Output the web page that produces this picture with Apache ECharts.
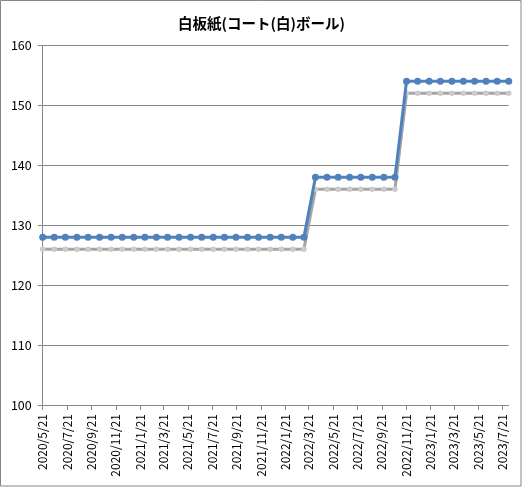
<!DOCTYPE html>
<html>
<head>
<meta charset="utf-8">
<script src="https://cdn.jsdelivr.net/npm/echarts@6/dist/echarts.min.js"></script>
<style>
  html, body { margin: 0; padding: 0; background: #fff; }
  #chart { width: 523px; height: 487px; }
</style>
</head>
<body>
<div id="chart"></div>
<script>
// 日付（データの時点）
var dates = [
  '2020-05-21', '2020-06-19', '2020-07-17', '2020-08-15', '2020-09-12', '2020-10-11',
  '2020-11-09', '2020-12-07', '2021-01-05', '2021-02-02', '2021-03-03', '2021-03-31',
  '2021-04-29', '2021-05-28', '2021-06-25', '2021-07-24', '2021-08-21', '2021-09-19',
  '2021-10-18', '2021-11-15', '2021-12-14', '2022-01-11', '2022-02-09', '2022-03-09',
  '2022-04-07', '2022-05-06', '2022-06-03', '2022-07-02', '2022-07-30', '2022-08-28',
  '2022-09-26', '2022-10-24', '2022-11-22', '2022-12-20', '2023-01-18', '2023-02-15',
  '2023-03-16', '2023-04-14', '2023-05-12', '2023-06-10', '2023-07-08', '2023-08-06'
];

// 青い線
var blueValues = [
  128, 128, 128, 128, 128, 128, 128, 128, 128, 128, 128, 128,
  128, 128, 128, 128, 128, 128, 128, 128, 128, 128, 128, 128,
  138, 138, 138, 138, 138, 138, 138, 138,
  154, 154, 154, 154, 154, 154, 154, 154, 154, 154
];

// 灰色の線
var grayValues = [
  126, 126, 126, 126, 126, 126, 126, 126, 126, 126, 126, 126,
  126, 126, 126, 126, 126, 126, 126, 126, 126, 126, 126, 126,
  136, 136, 136, 136, 136, 136, 136, 136,
  152, 152, 152, 152, 152, 152, 152, 152, 152, 152
];

// x軸の目盛り（2か月ごと）
var xTicks = [
  '2020-05-21', '2020-07-21', '2020-09-21', '2020-11-21',
  '2021-01-21', '2021-03-21', '2021-05-21', '2021-07-21', '2021-09-21', '2021-11-21',
  '2022-01-21', '2022-03-21', '2022-05-21', '2022-07-21', '2022-09-21', '2022-11-21',
  '2023-01-21', '2023-03-21', '2023-05-21', '2023-07-21'
];

// y軸
var yMin = 100, yMax = 160, yStep = 10;

function toTime(s) {
  var p = s.split('-');
  return new Date(+p[0], +p[1] - 1, +p[2]).getTime();
}

function pairs(vals) {
  return vals.map(function (v, i) { return [toTime(dates[i]), v]; });
}

(function () {
  var myChart = echarts.init(document.getElementById('chart'));
  var axisColor = '#868686';

  var option = {
    animation: false,
    title: {
      text: '白板紙(コート(白)ボール)',
      left: 'center',
      top: 11,
      textStyle: {
        fontFamily: 'Noto Sans CJK JP',
        fontSize: 14.5,
        fontWeight: 'bold',
        color: '#000'
      }
    },
    graphic: [{
      type: 'rect',
      shape: { x: 0.5, y: 0.5, width: 520.5, height: 485.5 },
      style: { fill: 'none', stroke: axisColor, lineWidth: 1 },
      silent: true
    }],
    grid: {
      left: 42.7,
      right: 14.3,
      top: 45.3,
      bottom: 82
    },
    xAxis: {
      type: 'value',
      min: toTime(dates[0]),
      max: toTime(dates[dates.length - 1]),
      axisLine: { lineStyle: { color: axisColor, width: 1 } },
      axisTick: {
        show: true,
        length: 5,
        customValues: xTicks.map(toTime),
        lineStyle: { color: axisColor }
      },
      axisLabel: {
        customValues: xTicks.map(toTime),
        rotate: 90,
        margin: 9,
        color: '#000',
        fontFamily: 'Noto Sans CJK JP',
        fontSize: 12,
        formatter: function (v) {
          var d = new Date(v);
          return d.getFullYear() + '/' + (d.getMonth() + 1) + '/' + d.getDate();
        }
      },
      splitLine: { show: false }
    },
    yAxis: {
      type: 'value',
      min: yMin,
      max: yMax,
      interval: yStep,
      axisLine: { show: true, lineStyle: { color: axisColor, width: 1 } },
      axisTick: { show: true, length: 5, lineStyle: { color: axisColor } },
      axisLabel: {
        color: '#000',
        fontFamily: 'Noto Sans CJK JP',
        fontSize: 12.5,
        margin: 11
      },
      splitLine: { lineStyle: { color: axisColor, width: 1 } }
    },
    series: [
      {
        name: 'gray',
        type: 'line',
        data: pairs(grayValues),
        symbol: 'circle',
        symbolSize: 5.5,
        lineStyle: { color: '#a5a5a5', width: 3 },
        itemStyle: { color: '#cbcbcb' },
        z: 2
      },
      {
        name: 'blue',
        type: 'line',
        data: pairs(blueValues),
        symbol: 'circle',
        symbolSize: 7,
        lineStyle: { color: '#4f81bd', width: 3 },
        itemStyle: { color: '#4f81bd' },
        z: 3
      }
    ]
  };

  myChart.setOption(option);

  window.addEventListener('resize', function () {
    myChart.resize();
  });
})();
</script>
</body>
</html>
